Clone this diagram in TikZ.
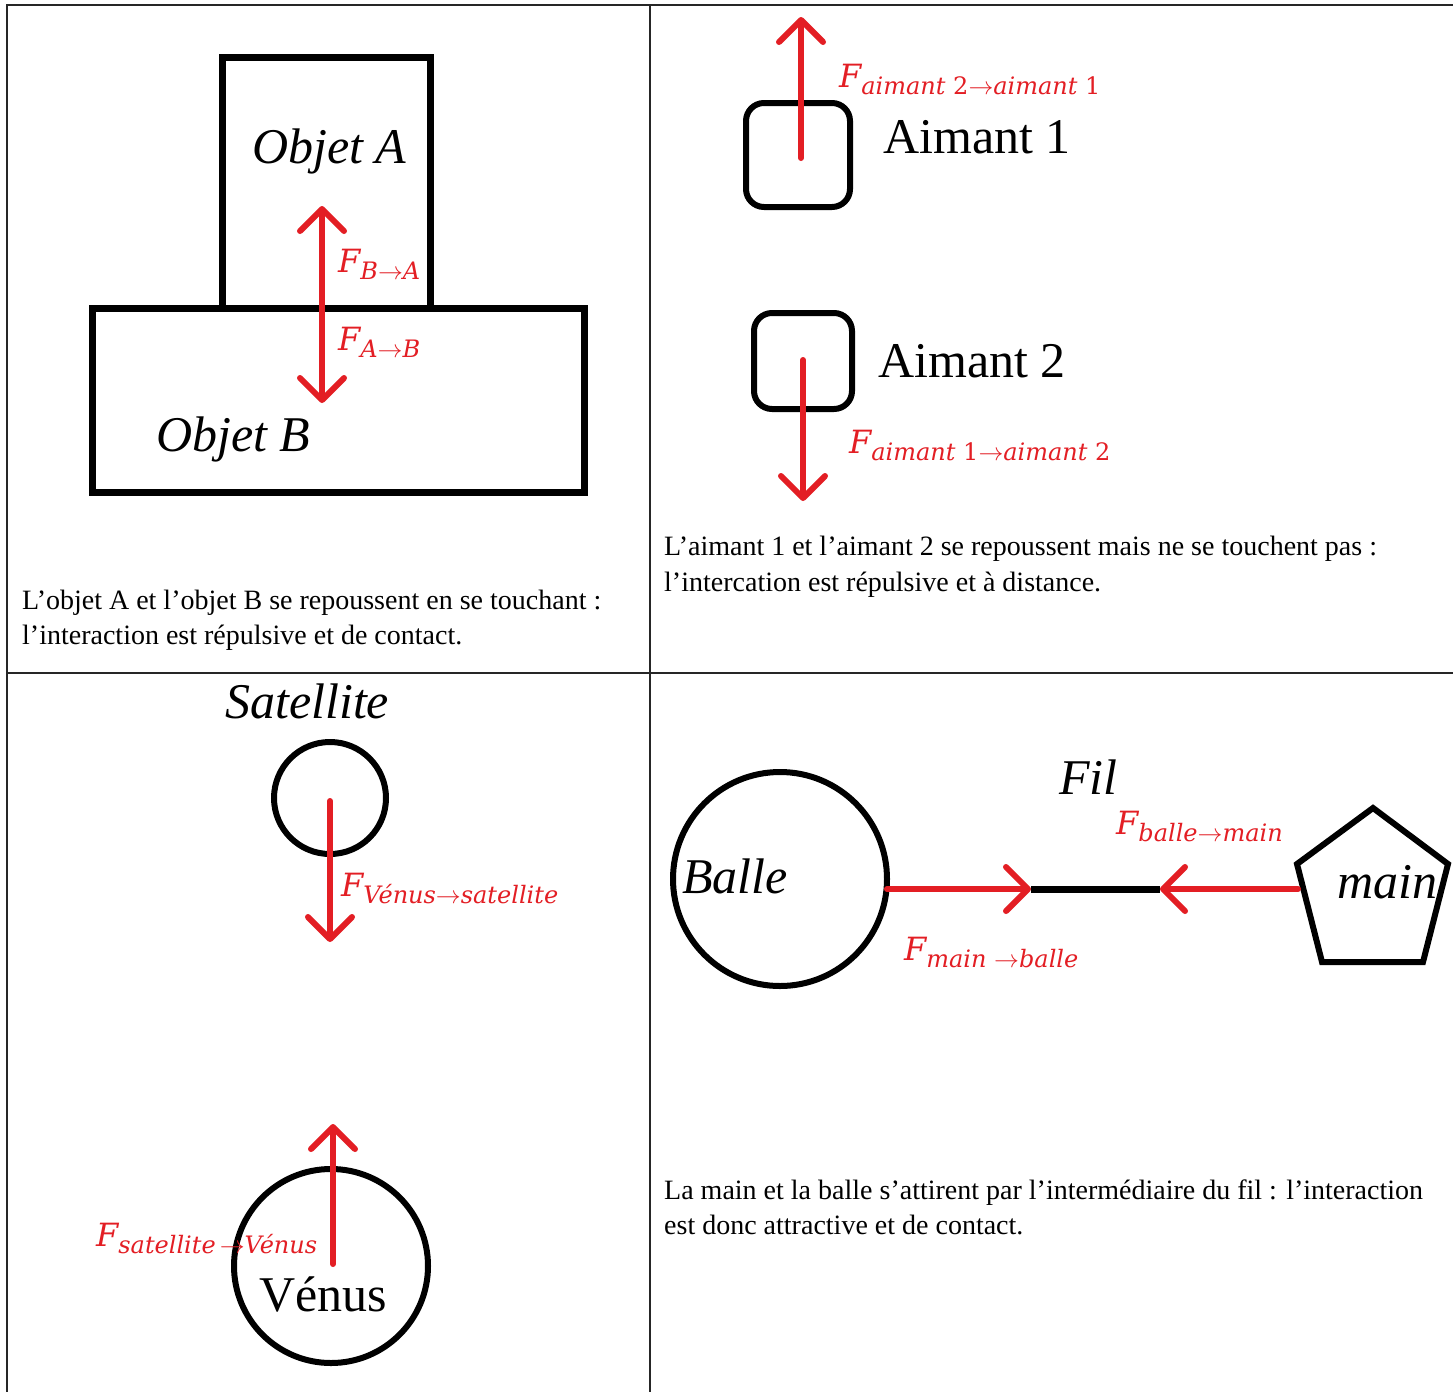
\documentclass[tikz,border=0pt]{standalone}
\usepackage{fontspec}
\setmainfont{Liberation Serif}
\newfontfamily\lblfont{DejaVu Serif}
\usetikzlibrary{arrows.meta}
\definecolor{fred}{RGB}{227,30,36}
\newcommand\Fsub[1]{{\lblfont\itshape\fontsize{32}{32}\selectfont F}\raisebox{-7pt}{\lblfont\itshape\fontsize{24}{24}\selectfont #1}}
\newcommand\farrow{$\rightarrow$}
\begin{document}
\begin{tikzpicture}[x=1pt,y=-1pt,
  >={Straight Barb[length=22pt,width=44pt,round]},
  outline/.style={draw=black,line width=7pt,inner sep=0pt,outer sep=0pt},
  thinout/.style={draw=black,line width=6pt,inner sep=0pt,outer sep=0pt},
  force/.style={draw=fred,line width=6pt,line cap=round},
  bigit/.style={font=\fontsize{50}{60}\selectfont\itshape,anchor=base west,inner sep=0pt},
  bigup/.style={font=\fontsize{50}{60}\selectfont,anchor=base west,inner sep=0pt},
  flab/.style={text=fred,anchor=base west,inner sep=0pt},
  captxt/.style={font=\fontsize{28}{35}\selectfont,anchor=base west,inner sep=0pt},
  gridline/.style={draw=black!85,line width=1.6pt}]
\useasboundingbox (0,0) rectangle (1453,1392);
\fill[white] (0,0) rectangle (1453,1392);
% grid
\draw[gridline] (1453,5) -- (7,5) -- (7,1392);
\draw[gridline] (650,5) -- (650,1392);
\draw[gridline] (7,673) -- (1453,673);

% ---- panel 1
\node[outline,minimum width=492pt,minimum height=184pt] (objB) at (338,400) {};
\node[outline,minimum width=208pt,minimum height=251pt] (objA) at (326,182.5) {};
\node[bigit] (tA) at (252,163) {Objet A};
\node[bigit] (tB) at (156,451) {Objet B};
\coordinate (fBAtip) at (322,206);
\coordinate (fABtip) at (322,403);
\draw[force,<->] (fBAtip) -- (fABtip);
\node[flab] (lBA) at (338,272) {\Fsub{B\farrow A}};
\node[flab] (lAB) at (338,350) {\Fsub{A\farrow B}};
\node[captxt] (c1a) at (22,609) {L’objet A et l’objet B se repoussent en se touchant :};
\node[captxt] (c1b) at (22,644) {l’interaction est répulsive et de contact.};

% ---- panel 2
\node[thinout,rounded corners=18pt,minimum width=104pt,minimum height=104pt] (m1) at (798,155) {};
\node[thinout,rounded corners=18pt,minimum width=98pt,minimum height=96pt] (m2) at (803,361) {};
\node[bigup] (tm1) at (883,153) {Aimant 1};
\node[bigup] (tm2) at (878,377) {Aimant 2};
\coordinate (m1s) at (801,158);
\coordinate (m1t) at (801,17);
\coordinate (m2s) at (803,360);
\coordinate (m2t) at (803,501);
\draw[force,->] (m1s) -- (m1t);
\draw[force,->] (m2s) -- (m2t);
\node[flab] (l21) at (839,87) {\Fsub{aimant \textup{2}\farrow aimant \textup{1}}};
\node[flab] (l12) at (849,453) {\Fsub{aimant \textup{1}\farrow aimant \textup{2}}};
\node[captxt] (c2a) at (664,555) {L’aimant 1 et l’aimant 2 se repoussent mais ne se touchent pas :};
\node[captxt] (c2b) at (664,591) {l’intercation est répulsive et à distance.};

% ---- panel 3
\node[bigit] (tsat) at (225,718) {Satellite};
\node[thinout,circle,minimum size=112pt] (sat) at (330,798) {};
\node[thinout,circle,minimum size=194pt] (ven) at (331,1266) {};
\node[bigup] (tven) at (259,1311) {Vénus};
\coordinate (ss) at (330,801);
\coordinate (st) at (330,942);
\coordinate (vs) at (333,1264);
\coordinate (vt) at (333,1124);
\draw[force,->] (ss) -- (st);
\draw[force,->] (vs) -- (vt);
\node[flab] (lvs) at (341,896) {\Fsub{Vénus\farrow satellite}};
\node[flab] (lsv) at (96,1246) {\Fsub{satellite\,\farrow Vénus}};

% ---- panel 4
\node[thinout,circle,minimum size=214pt] (balle) at (780,879) {};
\node[bigit] (tballe) at (682,893) {Balle};
\node[bigit] (tfil) at (1059,794) {Fil};
\coordinate (p1) at (1373,808);
\coordinate (p2) at (1448,864);
\coordinate (p3) at (1423,962);
\coordinate (p4) at (1322,962);
\coordinate (p5) at (1297,864);
\draw[draw=black,line width=6pt,line join=miter] (p1) -- (p2) -- (p3) -- (p4) -- (p5) -- cycle;
\node[bigit] (tmain) at (1337,898) {main};
\coordinate (fa) at (887,889);
\coordinate (fb) at (1031,889);
\coordinate (fc) at (1160,889);
\coordinate (fd) at (1298,889);
\draw[black,line width=7pt] (fb) -- (fc);
\draw[force,->] (fa) -- (fb);
\draw[force,->] (fd) -- (fc);
\node[flab] (lbm) at (1116,834) {\Fsub{balle\farrow main}};
\node[flab] (lmb) at (904,960) {\Fsub{main \farrow balle}};
\node[captxt] (c4a) at (664,1199) {La main et la balle s’attirent par l’intermédiaire du fil : l’interaction};
\node[captxt] (c4b) at (664,1234) {est donc attractive et de contact.};
\end{tikzpicture}
\end{document}
